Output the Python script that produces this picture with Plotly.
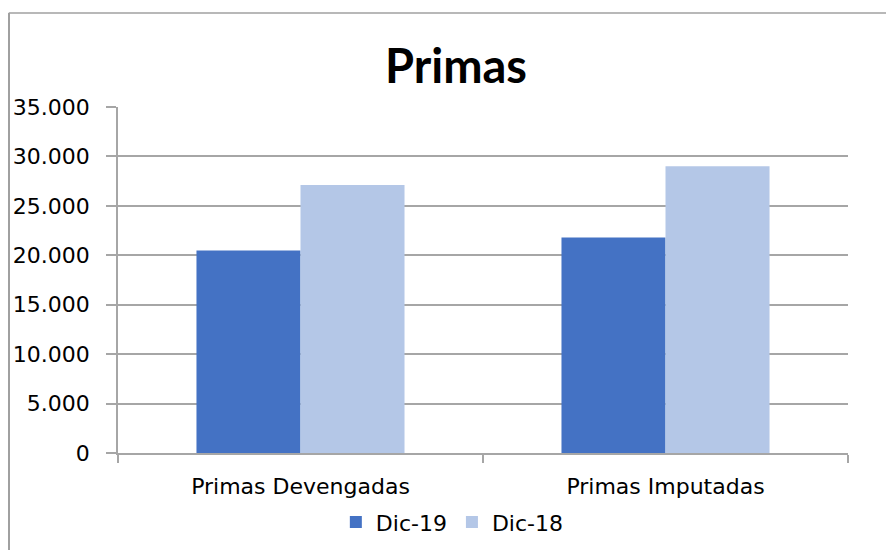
import plotly.graph_objects as go

categories = ["Primas Devengadas", "Primas Imputadas"]
series_names = ["Dic-19", "Dic-18"]
dic19 = [20480, 21800]
dic18 = [27100, 29000]
y_ticks = [0, 5000, 10000, 15000, 20000, 25000, 30000, 35000]
colors = ["#4472C4", "#B4C7E7"]

FONT = "DejaVu Sans"
TFONT = "Lato"

# page body has an 8px margin: figure is sized/offset to match the 894x550 page
W, H = 886, 542
L, T, PW, PH = 110, 99, 730, 346

fig = go.Figure()
for name, vals, col in zip(series_names, [dic19, dic18], colors):
    fig.add_trace(go.Bar(name=name, x=categories, y=vals, marker_color=col,
                         marker_line_width=0))

fig.update_layout(
    width=W, height=H,
    paper_bgcolor="white", plot_bgcolor="white",
    margin=dict(l=L, r=W - L - PW, t=T, b=H - T - PH, autoexpand=False),
    separators=",.",
    barmode="group", bargap=0.43, bargroupgap=0,
    font=dict(family=FONT, color="black", size=22),
    title=dict(text="<b>Primas</b>", x=0.463, xanchor="center", xref="paper",
               y=(H - 59) / H, yref="container", yanchor="middle",
               font=dict(family=TFONT, size=47, color="black")),
    legend=dict(orientation="h", x=0.458, xanchor="center", y=-0.2, yanchor="middle",
                font=dict(family=FONT, size=22), itemwidth=30,
                traceorder="normal", itemsizing="constant"),
    showlegend=True,
)

fig.update_yaxes(range=[0, 35000], tickvals=y_ticks, tickformat=",d",
                 showgrid=True, gridcolor="#A6A6A6", gridwidth=1.5,
                 showline=True, linecolor="#A6A6A6", linewidth=1.5,
                 ticks="outside", ticklen=10, tickcolor="#A6A6A6", tickwidth=1.5,
                 ticklabelstandoff=12, zeroline=False,
                 tickfont=dict(family=FONT, size=22))
fig.update_xaxes(showline=True, linecolor="#A6A6A6", linewidth=1.5,
                 ticks="outside", tickson="boundaries", ticklen=8,
                 tickcolor="#A6A6A6", tickwidth=1.5,
                 tickfont=dict(family=FONT, size=22), ticklabelstandoff=13)

# outer chart border (top and left visible)
fig.add_shape(type="line", xref="paper", yref="paper",
              x0=(0.75 - L) / PW, x1=(W - L) / PW, y0=(T + PH - 5) / PH, y1=(T + PH - 5) / PH,
              line=dict(color="#A0A0A0", width=1.5))
fig.add_shape(type="line", xref="paper", yref="paper",
              x0=(1 - L) / PW, x1=(1 - L) / PW, y0=(T + PH - 5) / PH, y1=(T + PH - 560) / PH,
              line=dict(color="#A0A0A0", width=2))

fig.write_html("out.html")
